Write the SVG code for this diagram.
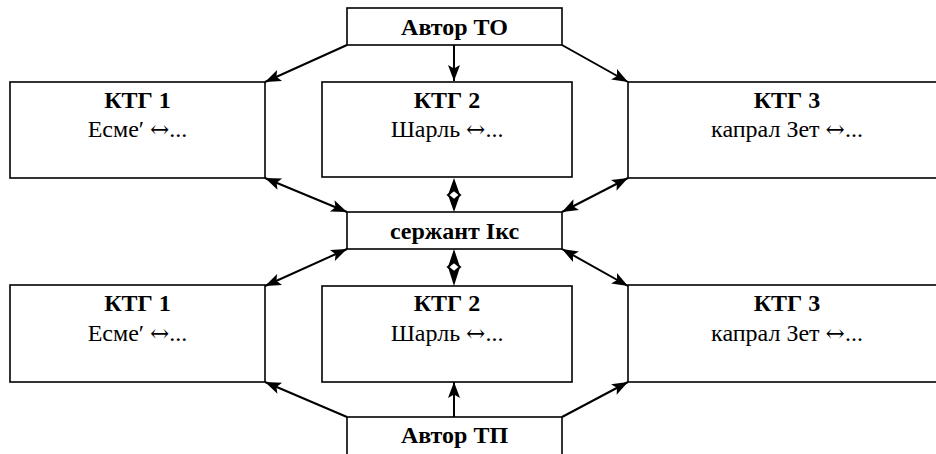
<svg xmlns="http://www.w3.org/2000/svg" width="936" height="454" viewBox="0 0 936 454">
  <style>
    .box { fill: #fff; stroke: #000; stroke-width: 1.6; }
    .t { font-family: "Liberation Serif", "Times New Roman", serif; font-size: 24px; fill: #000; text-anchor: middle; }
    .b { font-weight: bold; }
    .ar { font-family: "DejaVu Serif", "Liberation Serif", serif; font-size: 23px; }
    .ln { stroke: #000; stroke-width: 2; fill: none; }
    .head { fill: #000; stroke: none; }
  </style>
  <defs>
    <marker id="arr" markerUnits="userSpaceOnUse" markerWidth="18" markerHeight="14" refX="17" refY="6.5" orient="auto-start-reverse">
      <path d="M1,0.5 L17,6.5 L1,12.5 L4.5,6.5 z" class="head"/>
    </marker>
  </defs>

  <rect width="936" height="454" fill="#fff"/>

  <!-- connectors -->
  <g id="connectors">
    <!-- from Автор ТО -->
    <line class="ln" x1="347" y1="45" x2="265" y2="82" marker-end="url(#arr)"/>
    <line class="ln" x1="454" y1="45" x2="454" y2="81" marker-end="url(#arr)"/>
    <line class="ln" x1="562" y1="45" x2="628" y2="82" marker-end="url(#arr)"/>
    <!-- upper row to сержант Ікс -->
    <line class="ln" x1="265" y1="178" x2="347" y2="212" marker-start="url(#arr)" marker-end="url(#arr)"/>
    <line class="ln" x1="628" y1="178" x2="562" y2="212" marker-start="url(#arr)" marker-end="url(#arr)"/>
    <!-- сержант Ікс to lower row -->
    <line class="ln" x1="347" y1="249" x2="265" y2="286" marker-start="url(#arr)" marker-end="url(#arr)"/>
    <line class="ln" x1="562" y1="249" x2="628" y2="286" marker-start="url(#arr)" marker-end="url(#arr)"/>
    <!-- vertical double arrows (heads meet, leaving a hollow lozenge) -->
    <g class="head">
      <path d="M454,178 L460,195 L454,190 L448,195 z"/>
      <path d="M454,212 L460,195 L454,200 L448,195 z"/>
      <path d="M454,249 L460,267 L454,262 L448,267 z"/>
      <path d="M454,286 L460,267 L454,272 L448,267 z"/>
    </g>
    <path class="ln" stroke-width="1.2" d="M448,195 L454,190 L460,195 L454,200 z M448,267 L454,262 L460,267 L454,272 z"/>
    <!-- from Автор ТП -->
    <line class="ln" x1="347" y1="417" x2="265" y2="382" marker-end="url(#arr)"/>
    <line class="ln" x1="454" y1="417" x2="454" y2="382" marker-end="url(#arr)"/>
    <line class="ln" x1="562" y1="417" x2="628" y2="382" marker-end="url(#arr)"/>
  </g>

  <g id="author-to">
    <rect class="box" x="347" y="8" width="215" height="37"/>
    <text class="t b" x="454.5" y="35">Автор ТО</text>
  </g>

  <g id="ktg1-top">
    <rect class="box" x="10" y="82" width="255" height="96"/>
    <text class="t b" x="137.5" y="108">КТГ 1</text>
    <text class="t" x="137.5" y="137">Есме′ <tspan class="ar">↔</tspan>...</text>
  </g>
  <g id="ktg2-top">
    <rect class="box" x="322" y="82" width="250" height="95"/>
    <text class="t b" x="447" y="108">КТГ 2</text>
    <text class="t" x="447" y="137">Шарль <tspan class="ar">↔</tspan>...</text>
  </g>
  <g id="ktg3-top">
    <rect class="box" x="628" y="82" width="320" height="96"/>
    <text class="t b" x="787" y="108">КТГ 3</text>
    <text class="t" x="787" y="137">капрал Зет <tspan class="ar">↔</tspan>...</text>
  </g>

  <g id="serzhant">
    <rect class="box" x="347" y="212" width="215" height="37"/>
    <text class="t b" x="454.5" y="239">сержант Ікс</text>
  </g>

  <g id="ktg1-bottom">
    <rect class="box" x="10" y="285" width="255" height="97"/>
    <text class="t b" x="137.5" y="311">КТГ 1</text>
    <text class="t" x="137.5" y="341">Есме′ <tspan class="ar">↔</tspan>...</text>
  </g>
  <g id="ktg2-bottom">
    <rect class="box" x="322" y="286" width="250" height="96"/>
    <text class="t b" x="447" y="311">КТГ 2</text>
    <text class="t" x="447" y="341">Шарль <tspan class="ar">↔</tspan>...</text>
  </g>
  <g id="ktg3-bottom">
    <rect class="box" x="628" y="285" width="320" height="97"/>
    <text class="t b" x="787" y="311">КТГ 3</text>
    <text class="t" x="787" y="341">капрал Зет <tspan class="ar">↔</tspan>...</text>
  </g>

  <g id="author-tp">
    <rect class="box" x="347" y="417" width="215" height="45"/>
    <text class="t b" x="454.5" y="443">Автор ТП</text>
  </g>
</svg>
